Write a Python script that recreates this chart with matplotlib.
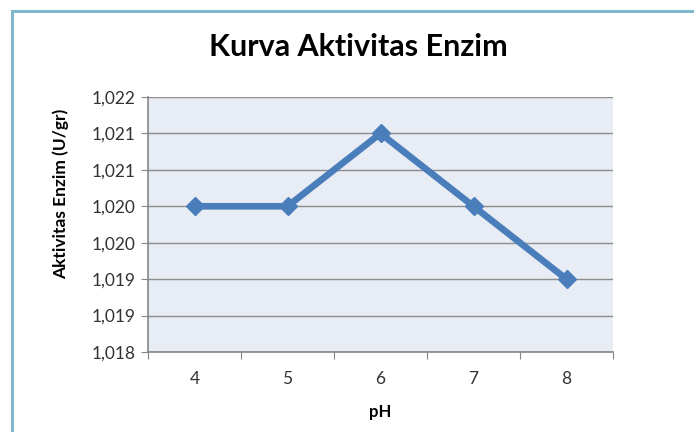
import matplotlib.pyplot as plt
from matplotlib.patches import Rectangle

# Data
ph = ["4", "5", "6", "7", "8"]
aktivitas = [1.0200, 1.0200, 1.0210, 1.0200, 1.0190]
yticks = [1.0180, 1.0185, 1.0190, 1.0195, 1.0200, 1.0205, 1.0210, 1.0215]
ytick_labels = ["1,018", "1,019", "1,019", "1,020", "1,020", "1,021", "1,021", "1,022"]

plt.rcParams["font.family"] = ["Lato", "DejaVu Sans"]

fig = plt.figure(figsize=(6.94, 4.32), dpi=100)
fig.patch.set_facecolor("white")

# teal frame of the chart object (cut off at right and bottom)
fig.patches.append(Rectangle((12 / 694, -0.1), 1.2, 1 - 11 / 432 + 0.1,
                             transform=fig.transFigure, fill=False,
                             edgecolor="#7FB9C9", linewidth=2.2))

ax = fig.add_axes([148 / 694, 80 / 432, 465 / 694, 255 / 432])
ax.set_facecolor("#E8ECF4")

x = list(range(len(ph)))
ax.plot(x, aktivitas, color="#4A7EBB", linewidth=4.8, marker="D",
        markersize=9, zorder=3)

ax.set_xlim(-0.5, len(ph) - 0.5)
ax.set_ylim(1.0180, 1.0215)
ax.set_yticks(yticks)
ax.set_yticklabels(ytick_labels)

# Category axis: ticks between categories, labels at centres
ax.set_xticks([i - 0.5 for i in range(len(ph) + 1)])
ax.set_xticklabels([])
ax.set_xticks(x, minor=True)
ax.set_xticklabels(ph, minor=True)
ax.tick_params(axis="x", which="minor", length=0, pad=14, labelsize=12.5, colors="#333333")
ax.tick_params(axis="x", which="major", length=5, color="#868686", direction="out")
ax.tick_params(axis="y", length=5, color="#868686", labelsize=12.5, colors="#333333", pad=4)
for lbl in ax.get_yticklabels():
    lbl.set_color("#333333")

ax.grid(axis="y", color="#8C8C8C", linewidth=1)
ax.set_axisbelow(True)
for s in ["top", "right"]:
    ax.spines[s].set_visible(False)
for s in ["left", "bottom"]:
    ax.spines[s].set_color("#868686")
    ax.spines[s].set_linewidth(1.2)

ax.set_xlabel("pH", fontsize=12, fontweight="bold")
ax.xaxis.set_label_coords(0.5, -0.205)
ax.set_ylabel("Aktivitas Enzim (U/gr)", fontsize=12.5, fontweight="bold")
ax.yaxis.set_label_coords(-0.17, 0.62)
fig.text(358 / 694, 1 - 47 / 432, "Kurva Aktivitas Enzim", ha="center", va="center",
         fontsize=22, fontweight="bold")

fig.savefig("out.png", dpi=100)
